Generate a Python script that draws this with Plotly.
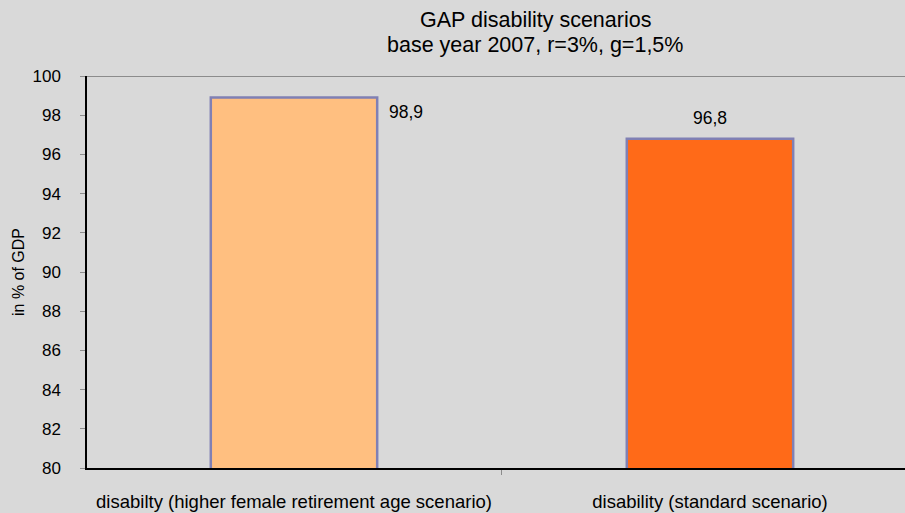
import plotly.graph_objects as go

# data
categories = ["disabilty (higher female retirement age scenario)", "disability (standard scenario)"]
values = [98.9, 96.8]
labels = ["98,9", "96,8"]
bar_colors = ["#FFBF80", "#FF6A18"]
title_lines = ["GAP disability scenarios", "base year 2007, r=3%, g=1,5%"]

fig = go.Figure()
fig.add_trace(go.Bar(
    x=categories, y=values,
    marker=dict(color=bar_colors, line=dict(color="#8080B4", width=2.5)),
    width=0.4,
))

# data labels: first one sits to the right of the bar top, second above
fig.add_annotation(x=categories[0], y=values[0], text=labels[0], showarrow=False,
                   xanchor="left", yanchor="middle", xshift=93, yshift=-14,
                   font=dict(size=17.5, color="black"))
fig.add_annotation(x=categories[1], y=values[1], text=labels[1], showarrow=False,
                   xanchor="center", yanchor="middle", yshift=21,
                   font=dict(size=17.5, color="black"))

# two-line title, tighter line spacing than plotly's default
for i, line in enumerate(title_lines):
    fig.add_annotation(xref="paper", yref="paper", x=0.548, y=[1.143, 1.079][i],
                       text=line, showarrow=False, xanchor="center", yanchor="middle",
                       font=dict(size=21.5, color="black"))

# grey line at the top of the plot area
fig.add_shape(type="line", xref="paper", yref="y", x0=0, x1=1, y0=100, y1=100,
              line=dict(color="#8C8C8C", width=2))

fig.update_layout(
    width=905, height=513,
    paper_bgcolor="#D9D9D9", plot_bgcolor="#D9D9D9",
    margin=dict(l=87, r=0, t=76, b=45),
    font=dict(family="Liberation Sans, Arial, sans-serif", size=17.5, color="black"),
    showlegend=False,
)
fig.update_xaxes(type="category", range=[-0.4976, 1.4688], tickson="boundaries",
                 ticks="outside", ticklen=5, tickcolor="#8C8C8C",
                 showline=True, linecolor="black", linewidth=1.5,
                 showgrid=False, tickfont=dict(size=18.5), ticklabelstandoff=16)
fig.update_yaxes(range=[80, 100], dtick=2, ticks="outside", ticklen=5,
                 tickcolor="#8C8C8C", showline=True, linecolor="black",
                 linewidth=1.5, showgrid=False, zeroline=False,
                 title=dict(text="in % of GDP", font=dict(size=16), standoff=4),
                 tickfont=dict(size=17), ticklabelstandoff=16)

fig.write_html("out.html", config={"displayModeBar": False},
               post_script="document.body.style.margin='0';")
